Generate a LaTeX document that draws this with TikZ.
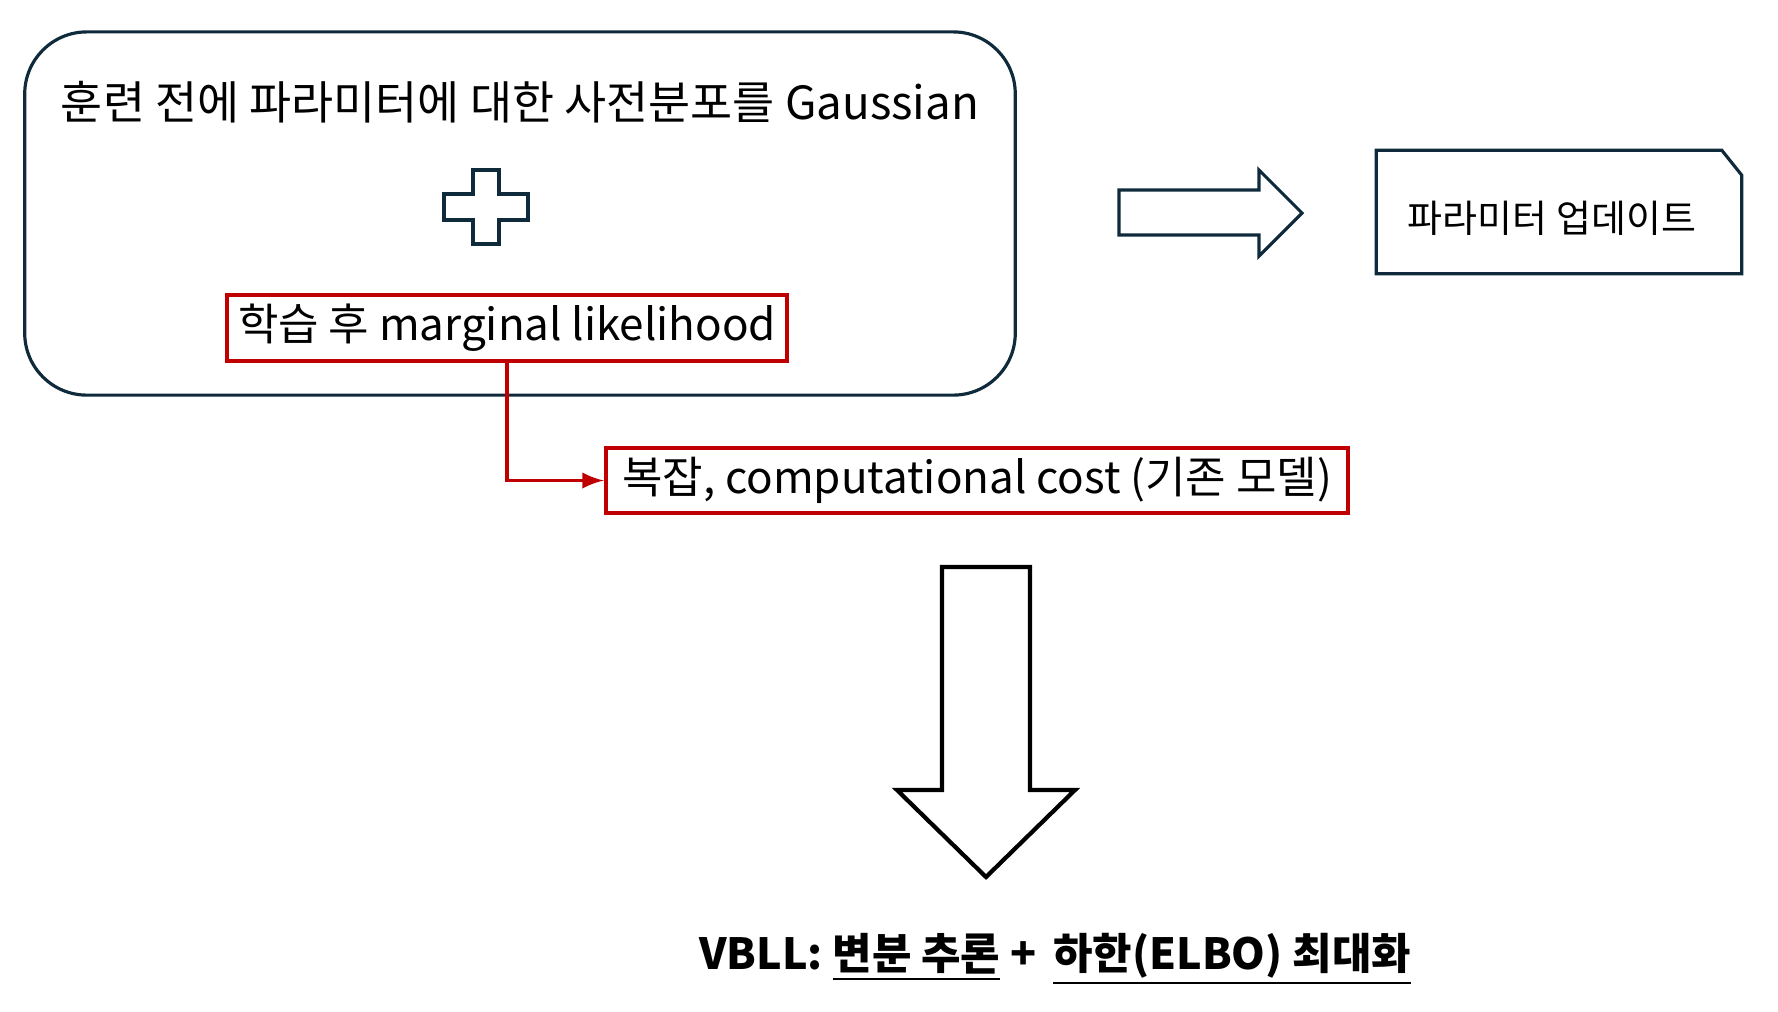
\documentclass[tikz,border=0pt]{standalone}
\usepackage{fontspec}
\setmainfont{Noto Sans CJK KR}
\usetikzlibrary{calc}
\definecolor{navy}{HTML}{0E2A3B}
\definecolor{boxred}{HTML}{C00000}

\begin{document}
\begin{tikzpicture}[x=0.01cm,y=-0.01cm,
  outline/.style={draw=navy,line width=0.9pt},
  redbox/.style={draw=boxred,line width=1.1pt,inner sep=0pt},
  bigtext/.style={font=\fontsize{12.5}{15}\selectfont},
  smalltext/.style={font=\fontsize{10.8}{13}\selectfont}]
\useasboundingbox (0,0) rectangle (1778,1011);
% prior box
\node[outline,rounded corners=0.62cm,minimum width=9.9cm,minimum height=3.63cm] (prior) at (520,213.5) {};
\node[font=\fontsize{13}{15}\selectfont] (title) at (520,102) {훈련 전에 파라미터에 대한 사전분포를 Gaussian};
\draw[outline,fill=white] (473,170) -- (499,170) -- (499,194) -- (528,194) -- (528,220)
  -- (499,220) -- (499,244) -- (473,244) -- (473,220) -- (444,220) -- (444,194)
  -- (473,194) -- cycle;
\node[redbox,bigtext,minimum width=5.6cm,minimum height=0.66cm] (lik) at (507,328) {학습 후 marginal likelihood};
\node[redbox,bigtext,minimum width=7.42cm,minimum height=0.65cm] (cost) at (977,480.5) {복잡, computational cost (기존 모델)};
\draw[boxred,line width=1.1pt,-latex] (lik.south) |- (cost.west);
% update
\draw[outline] (1119,190) -- (1259,190) -- (1259,170) -- (1302,213) -- (1259,256)
  -- (1259,235) -- (1119,235) -- cycle;
\node[minimum width=3.64cm,minimum height=1.22cm] (upd) at (1559,212) {};
\node[smalltext] (updtext) at (1552,218) {파라미터 업데이트};
\draw[outline] (upd.north west) -- ($(upd.north east)+(-20,0)$) -- ($(upd.north east)+(0,25)$)
  -- (upd.south east) -- (upd.south west) -- cycle;
% result
\draw[black,line width=1.2pt] (942,567) -- (1030,567) -- (1030,790) -- (1075,790) -- (986,877)
  -- (897,790) -- (942,790) -- cycle;
\node[font=\fontsize{12.2}{15}\bfseries\selectfont] (vbll) at (1055,959)
  {VBLL: \underline{변분 추론} + \,\underline{하한(ELBO) 최대화}};
\end{tikzpicture}
\end{document}
